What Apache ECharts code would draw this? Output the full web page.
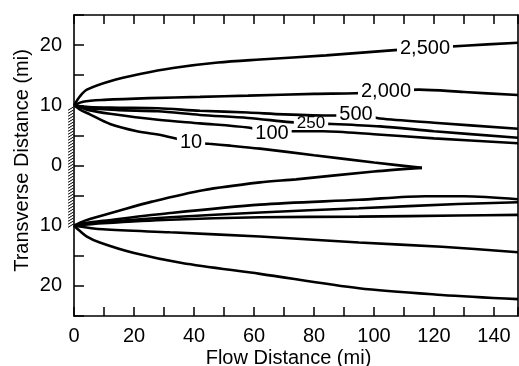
<!doctype html>
<html>
<head>
<meta charset="utf-8">
<title>Transverse vs flow distance</title>
<script src="https://cdn.jsdelivr.net/npm/echarts@6/dist/echarts.min.js"></script>
</head>
<body style="margin:0;padding:0">
<div id="tb" style="width:519px;height:366px;"></div>
<script>
// contour values (labels) and the points of each curve
var contourNames = ['2,500', '2,000', '500', '250', '100', '10'];
var labelAt = [10, 8, 8, 7, 6, 6];   // index of the point where the label sits

var c2500U = [[0,10],[2,11.5],[4.3,12.6],[12,14.0],[22,15.2],[33,16.2],[48,17.1],[62,17.6],[84,18.3],[108,19.2],[117,19.5],[130,19.9],[148,20.4]];
var c2000U = [[0,10],[3,10.6],[10,10.9],[25,11.2],[42,11.4],[58,11.6],[80,11.9],[94,12.0],[104,12.3],[115,12.6],[130,12.2],[148,11.7]];
var c500U = [[0,10],[5,9.7],[15,9.6],[28,9.5],[42,9.1],[58,8.8],[70,8.5],[86,8.3],[94,8.5],[102,7.8],[120,7.1],[148,6.1]];
var c250U = [[0,10],[5,9.5],[15,9.2],[28,9.0],[42,8.4],[58,7.9],[72,7.2],[79,7.0],[86,6.9],[102,6.5],[120,5.7],[148,4.6]];
var c100U = [[0,10],[5,9.2],[12,8.6],[28,7.6],[42,7.0],[58,6.3],[66,5.4],[72,5.7],[83,5.7],[100,5.2],[120,4.5],[148,3.7]];
// the 10 contour closes on itself: upper source -> tip <- lower source
var c10U = [[0,10],[2,9.3],[5.3,8.5],[12,6.9],[21,5.7],[29.6,5.0],[39,3.9],[45,3.6],[52,3.3],[62,2.8],[80,1.7],[100,0.5],[116,-0.4]];
var c10L = [[0,-10],[2,-9.5],[5.3,-8.9],[15,-7.5],[26,-6.0],[43,-4.1],[62,-2.8],[74,-2.3],[100,-1.0],[116,-0.4]];

var c100L = [[0,-10],[3,-9.6],[9.7,-9.2],[32,-7.9],[62,-6.5],[95,-5.7],[117,-5.1],[130,-5.1],[148,-5.6]];
var c250L = [[0,-10],[9.7,-9.4],[32,-8.6],[62,-7.8],[95,-7.1],[128,-6.4],[148,-6.1]];
var c500L = [[0,-10],[9.7,-9.6],[32,-9.0],[62,-8.6],[95,-8.5],[128,-8.3],[148,-8.2]];
var c2000L = [[0,-10],[9.7,-10.6],[32,-11.1],[62,-11.8],[95,-12.8],[122.6,-13.5],[148,-14.4]];
var c2500L = [[0,-10],[2,-10.9],[4.3,-11.8],[8.6,-12.8],[19.7,-14.5],[36,-16.2],[62,-18.0],[95,-20.4],[122.6,-21.5],[148,-22.2]];

// boundary between the two sources (x, y from, y to)
var wall = [[0, -10, 10]];

var xTickLabels = [0, 20, 40, 60, 80, 100, 120, 140];
var yTickLabels = [20, 10, 0, -10, -20];

var font = 'Liberation Sans, Arial, sans-serif';
var upper = [c2500U, c2000U, c500U, c250U, c100U, c10U];
var lower = [c2500L, c2000L, c500L, c250L, c100L, c10L];

var series = [];
upper.forEach(function(pts, k) {
	series.push({
		type: 'line',
		smooth: 0.3,
		symbol: 'circle',
		symbolSize: 0,
		lineStyle: {color: '#000', width: 2.6},
		itemStyle: {color: '#000'},
		silent: true,
		data: pts.map(function(p, i) {
			if (i !== labelAt[k]) return p;
			return {
				value: p,
				label: {
					show: true,
					position: 'inside',
					formatter: contourNames[k],
					color: '#000',
					fontSize: k === 3 ? 17 : 20,
					fontFamily: font,
					backgroundColor: '#fff',
					padding: [0, 3],
					lineHeight: k === 3 ? 12 : 15
				}
			};
		})
	});
});
lower.forEach(function(pts) {
	series.push({
		type: 'line',
		smooth: 0.3,
		showSymbol: false,
		lineStyle: {color: '#000', width: 2.6},
		silent: true,
		data: pts
	});
});
// hatched no-flow boundary on the left edge
series.push({
	type: 'custom',
	clip: false,
	silent: true,
	data: wall,
	renderItem: function(params, api) {
		var top = api.coord([api.value(0), api.value(2)]);
		var bot = api.coord([api.value(0), api.value(1)]);
		var kids = [];
		for (var y = top[1] + 2; y <= bot[1]; y += 3) {
			kids.push({type: 'line', shape: {x1: top[0] - 6, y1: y + 3, x2: top[0] - 1, y2: y},
				style: {stroke: '#000', lineWidth: 1}});
		}
		return {type: 'group', children: kids};
	}
});

var axisLine = {show: true, onZero: false, lineStyle: {color: '#000', width: 1.6}};
var chart = echarts.init(document.getElementById('tb'));
chart.setOption({
	animation: false,
	grid: {left: 74, right: 1, top: 15, bottom: 50, containLabel: false, outerBoundsMode: 'none'},
	xAxis: [{
		type: 'value', min: 0, max: 148, interval: 10, position: 'bottom',
		axisLine: axisLine,
		axisTick: {inside: true, length: 9, lineStyle: {color: '#000', width: 1.5}},
		axisLabel: {
			color: '#000', fontSize: 20, fontFamily: font, margin: 10,
			formatter: function(v) { return xTickLabels.indexOf(v) >= 0 ? String(v) : ''; }
		},
		splitLine: {show: false},
		name: 'Flow Distance (mi)', nameLocation: 'middle', nameGap: 32, nameMoveOverlap: false,
		nameTextStyle: {color: '#000', fontSize: 20, fontFamily: font, padding: [0, 15, 0, 0]}
	}, {
		type: 'value', min: 0, max: 148, interval: 10, position: 'top',
		axisLine: axisLine,
		axisTick: {inside: true, length: 9, lineStyle: {color: '#000', width: 1.5}},
		axisLabel: {show: false},
		splitLine: {show: false}
	}],
	yAxis: [{
		type: 'value', min: -25, max: 25, interval: 5,
		axisLine: axisLine,
		axisTick: {inside: true, length: 10, lineStyle: {color: '#000', width: 1.5}},
		axisLabel: {
			color: '#000', fontSize: 20, fontFamily: font, margin: 12,
			formatter: function(v) { return yTickLabels.indexOf(v) >= 0 ? String(Math.abs(v)) : ''; }
		},
		splitLine: {show: false},
		name: 'Transverse Distance (mi)', nameLocation: 'middle', nameGap: 42, nameMoveOverlap: false,
		nameTextStyle: {color: '#000', fontSize: 20, fontFamily: font, padding: [0, 0, 0, 10]}
	}, {
		type: 'value', min: -25, max: 25, position: 'right',
		axisLine: axisLine,
		axisTick: {show: false},
		axisLabel: {show: false},
		splitLine: {show: false}
	}],
	series: series
});
</script>
</body>
</html>
